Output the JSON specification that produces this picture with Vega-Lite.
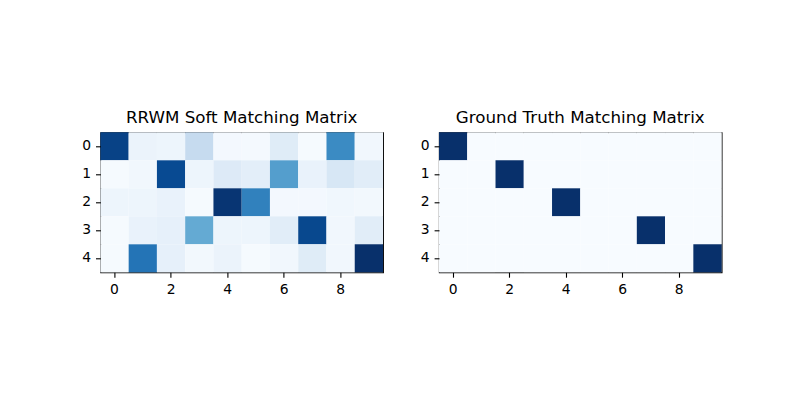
{
  "$schema": "https://vega.github.io/schema/vega-lite/v6.json",
  "autosize": {"type": "pad"},
  "padding": {"left": 80.4, "top": 109.3, "right": 5, "bottom": 5},
  "background": "white",
  "config": {
    "font": "DejaVu Sans",
    "view": {"stroke": "black", "strokeWidth": 1.1},
    "axis": {
      "domain": false,
      "grid": false,
      "ticks": true,
      "tickColor": "black",
      "tickWidth": 1.1,
      "tickSize": 4.9,
      "labelPadding": 4.9,
      "labelFont": "DejaVu Sans",
      "labelFontSize": 13.9,
      "labelColor": "black",
      "labelAngle": 0,
      "title": null
    },
    "title": {
      "font": "DejaVu Sans",
      "fontSize": 16.7,
      "fontWeight": "normal",
      "color": "black",
      "baseline": "alphabetic",
      "offset": 5.3,
      "anchor": "middle"
    }
  },
  "datasets": {
    "soft": [
      {"row": 0, "col": 0, "value": 0.93}, {"row": 0, "col": 1, "value": 0.06}, {"row": 0, "col": 2, "value": 0.05}, {"row": 0, "col": 3, "value": 0.25}, {"row": 0, "col": 4, "value": 0.02},
      {"row": 0, "col": 5, "value": 0.015}, {"row": 0, "col": 6, "value": 0.12}, {"row": 0, "col": 7, "value": 0.01}, {"row": 0, "col": 8, "value": 0.65}, {"row": 0, "col": 9, "value": 0.03},
      {"row": 1, "col": 0, "value": 0.01}, {"row": 1, "col": 1, "value": 0.03}, {"row": 1, "col": 2, "value": 0.9}, {"row": 1, "col": 3, "value": 0.05}, {"row": 1, "col": 4, "value": 0.13},
      {"row": 1, "col": 5, "value": 0.1}, {"row": 1, "col": 6, "value": 0.57}, {"row": 1, "col": 7, "value": 0.07}, {"row": 1, "col": 8, "value": 0.16}, {"row": 1, "col": 9, "value": 0.11},
      {"row": 2, "col": 0, "value": 0.05}, {"row": 2, "col": 1, "value": 0.05}, {"row": 2, "col": 2, "value": 0.07}, {"row": 2, "col": 3, "value": 0.01}, {"row": 2, "col": 4, "value": 0.98},
      {"row": 2, "col": 5, "value": 0.69}, {"row": 2, "col": 6, "value": 0.02}, {"row": 2, "col": 7, "value": 0.02}, {"row": 2, "col": 8, "value": 0.035}, {"row": 2, "col": 9, "value": 0.025},
      {"row": 3, "col": 0, "value": 0.01}, {"row": 3, "col": 1, "value": 0.07}, {"row": 3, "col": 2, "value": 0.085}, {"row": 3, "col": 3, "value": 0.52}, {"row": 3, "col": 4, "value": 0.05},
      {"row": 3, "col": 5, "value": 0.05}, {"row": 3, "col": 6, "value": 0.11}, {"row": 3, "col": 7, "value": 0.91}, {"row": 3, "col": 8, "value": 0.03}, {"row": 3, "col": 9, "value": 0.11},
      {"row": 4, "col": 0, "value": 0.01}, {"row": 4, "col": 1, "value": 0.74}, {"row": 4, "col": 2, "value": 0.085}, {"row": 4, "col": 3, "value": 0.025}, {"row": 4, "col": 4, "value": 0.06},
      {"row": 4, "col": 5, "value": 0.01}, {"row": 4, "col": 6, "value": 0.03}, {"row": 4, "col": 7, "value": 0.12}, {"row": 4, "col": 8, "value": 0.03}, {"row": 4, "col": 9, "value": 1.0}
    ],
    "truth": [
      {"row": 0, "col": 0, "value": 1}, {"row": 0, "col": 1, "value": 0}, {"row": 0, "col": 2, "value": 0}, {"row": 0, "col": 3, "value": 0}, {"row": 0, "col": 4, "value": 0},
      {"row": 0, "col": 5, "value": 0}, {"row": 0, "col": 6, "value": 0}, {"row": 0, "col": 7, "value": 0}, {"row": 0, "col": 8, "value": 0}, {"row": 0, "col": 9, "value": 0},
      {"row": 1, "col": 0, "value": 0}, {"row": 1, "col": 1, "value": 0}, {"row": 1, "col": 2, "value": 1}, {"row": 1, "col": 3, "value": 0}, {"row": 1, "col": 4, "value": 0},
      {"row": 1, "col": 5, "value": 0}, {"row": 1, "col": 6, "value": 0}, {"row": 1, "col": 7, "value": 0}, {"row": 1, "col": 8, "value": 0}, {"row": 1, "col": 9, "value": 0},
      {"row": 2, "col": 0, "value": 0}, {"row": 2, "col": 1, "value": 0}, {"row": 2, "col": 2, "value": 0}, {"row": 2, "col": 3, "value": 0}, {"row": 2, "col": 4, "value": 1},
      {"row": 2, "col": 5, "value": 0}, {"row": 2, "col": 6, "value": 0}, {"row": 2, "col": 7, "value": 0}, {"row": 2, "col": 8, "value": 0}, {"row": 2, "col": 9, "value": 0},
      {"row": 3, "col": 0, "value": 0}, {"row": 3, "col": 1, "value": 0}, {"row": 3, "col": 2, "value": 0}, {"row": 3, "col": 3, "value": 0}, {"row": 3, "col": 4, "value": 0},
      {"row": 3, "col": 5, "value": 0}, {"row": 3, "col": 6, "value": 0}, {"row": 3, "col": 7, "value": 1}, {"row": 3, "col": 8, "value": 0}, {"row": 3, "col": 9, "value": 0},
      {"row": 4, "col": 0, "value": 0}, {"row": 4, "col": 1, "value": 0}, {"row": 4, "col": 2, "value": 0}, {"row": 4, "col": 3, "value": 0}, {"row": 4, "col": 4, "value": 0},
      {"row": 4, "col": 5, "value": 0}, {"row": 4, "col": 6, "value": 0}, {"row": 4, "col": 7, "value": 0}, {"row": 4, "col": 8, "value": 0}, {"row": 4, "col": 9, "value": 1}
    ]
  },
  "bounds": "flush",
  "spacing": 55.6,
  "hconcat": [
    {
      "title": "RRWM Soft Matching Matrix",
      "width": 282.6,
      "height": 140,
      "data": {"name": "soft"},
      "mark": {"type": "rect", "strokeWidth": 0},
      "encoding": {
        "x": {"field": "col", "type": "ordinal", "scale": {"paddingInner": 0, "paddingOuter": 0}, "axis": {"values": [0, 2, 4, 6, 8]}},
        "y": {"field": "row", "type": "ordinal", "scale": {"paddingInner": 0, "paddingOuter": 0}},
        "color": {
          "field": "value",
          "type": "quantitative",
          "legend": null,
          "scale": {
            "type": "linear",
            "domain": [0, 0.125, 0.25, 0.375, 0.5, 0.625, 0.75, 0.875, 1],
            "range": ["#f7fbff", "#deebf7", "#c6dbef", "#9ecae1", "#6baed6", "#4292c6", "#2171b5", "#08519c", "#08306b"],
            "interpolate": "rgb"
          }
        }
      }
    },
    {
      "title": "Ground Truth Matching Matrix",
      "width": 282.6,
      "height": 140,
      "data": {"name": "truth"},
      "mark": {"type": "rect", "strokeWidth": 0},
      "encoding": {
        "x": {"field": "col", "type": "ordinal", "scale": {"paddingInner": 0, "paddingOuter": 0}, "axis": {"values": [0, 2, 4, 6, 8]}},
        "y": {"field": "row", "type": "ordinal", "scale": {"paddingInner": 0, "paddingOuter": 0}},
        "color": {
          "field": "value",
          "type": "quantitative",
          "legend": null,
          "scale": {
            "type": "linear",
            "domain": [0, 0.125, 0.25, 0.375, 0.5, 0.625, 0.75, 0.875, 1],
            "range": ["#f7fbff", "#deebf7", "#c6dbef", "#9ecae1", "#6baed6", "#4292c6", "#2171b5", "#08519c", "#08306b"],
            "interpolate": "rgb"
          }
        }
      }
    }
  ],
  "resolve": {"scale": {"color": "independent"}}
}
